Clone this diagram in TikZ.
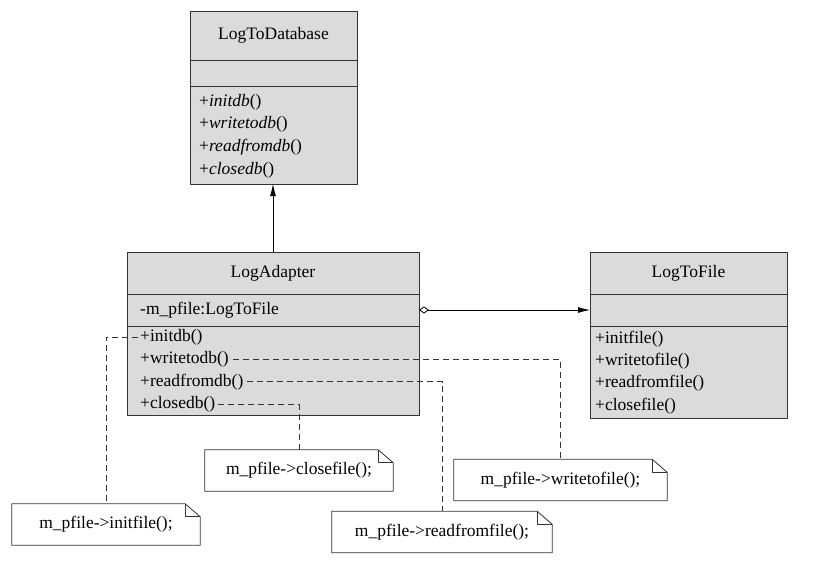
\documentclass[tikz,border=0pt]{standalone}
\usepackage{fontspec}
\setmainfont{Liberation Serif}
\usetikzlibrary{arrows.meta,positioning}
\definecolor{umlgray}{RGB}{219,219,219}
\newcommand{\notefold}[1]{%
  \draw[notefr] (#1.south west) -- (#1.north west) -- ([xshift=-15pt]#1.north east)
    -- ([yshift=-13pt]#1.north east) -- (#1.south east) -- cycle;
  \draw[notefr] ([xshift=-15pt]#1.north east) |- ([yshift=-13pt]#1.north east);}

\begin{document}
\begin{tikzpicture}[x=1pt, y=-1pt, font=\fontsize{17.5}{21}\selectfont, line join=round,
  comp/.style={draw=black!80, fill=umlgray, line width=0.8pt, inner sep=0pt, outer sep=0pt, minimum width=#1},
  op/.style={anchor=west, inner sep=0pt},
  note/.style={inner sep=0pt, minimum height=41},
  notefr/.style={draw=black!80, line width=0.8pt},
  link/.style={black!80, line width=0.8pt, dash pattern=on 6pt off 4pt},
  aggr/.style={{Diamond[open,length=10pt,width=7pt]}-{Latex[length=12pt,width=6pt]}, line width=0.8pt},
  >={Latex[length=12pt,width=6pt]}]
  \useasboundingbox (0,0) rectangle (813,572);

  % LogToDatabase
  \node[comp=167, minimum height=49] (dbName) at (273.5,35.5) {LogToDatabase};
  \node[comp=167, minimum height=26, below=0pt of dbName] (dbAttr) {};
  \node[comp=167, minimum height=98, below=0pt of dbAttr] (dbOps) {};
  \foreach \m [count=\i] in {initdb,writetodb,readfromdb,closedb}
    \node[op] (db\i) at (199,{102+22.6*(\i-1)}) {+\textit{\m}()};

  % LogAdapter
  \node[comp=292, minimum height=42] (adName) at (273,273) {LogAdapter};
  \node[comp=292, minimum height=32, below=0pt of adName] (adAttr) {};
  \node[comp=292, minimum height=89, below=0pt of adAttr] (adOps) {};
  \node[op] (adField) at (140,310) {-m\_pfile:LogToFile};
  \foreach \m [count=\i] in {initdb,writetodb,readfromdb,closedb}
    \node[op] (ad\i) at (140,{337+22.4*(\i-1)}) {+\m()};

  % LogToFile
  \node[comp=197, minimum height=42] (fileName) at (688.5,273) {LogToFile};
  \node[comp=197, minimum height=32, below=0pt of fileName] (fileAttr) {};
  \node[comp=197, minimum height=92, below=0pt of fileAttr] (fileOps) {};
  \foreach \m [count=\i] in {initfile,writetofile,readfromfile,closefile}
    \node[op] (file\i) at (595,{339+22.3*(\i-1)}) {+\m()};

  % notes
  \node[note, minimum width=188] (nInit) at (106,524.5) {m\_pfile->initfile();};
  \node[note, minimum width=188] (nClose) at (299,470.5) {m\_pfile->closefile();};
  \node[note, minimum width=220] (nRead) at (442,532) {m\_pfile->readfromfile();};
  \node[note, minimum width=213] (nWrite) at (560.5,480) {m\_pfile->writetofile();};
  \notefold{nInit}
  \notefold{nClose}
  \notefold{nRead}
  \notefold{nWrite}

  \draw[->, line width=0.8pt] (adName.north) -- (adName.north |- dbOps.south);
  \draw[aggr] (adAttr.east) -- (fileAttr.west);

  \draw[link, shorten <=2pt] (ad1.west) -| (nInit.north);
  \draw[link, shorten <=4pt] (ad2.east) -| (nWrite.north);
  \draw[link, shorten <=3pt] (ad3.east) -| (nRead.north);
  \draw[link, shorten <=3pt] (ad4.east) -| (nClose.north);
\end{tikzpicture}
\end{document}
